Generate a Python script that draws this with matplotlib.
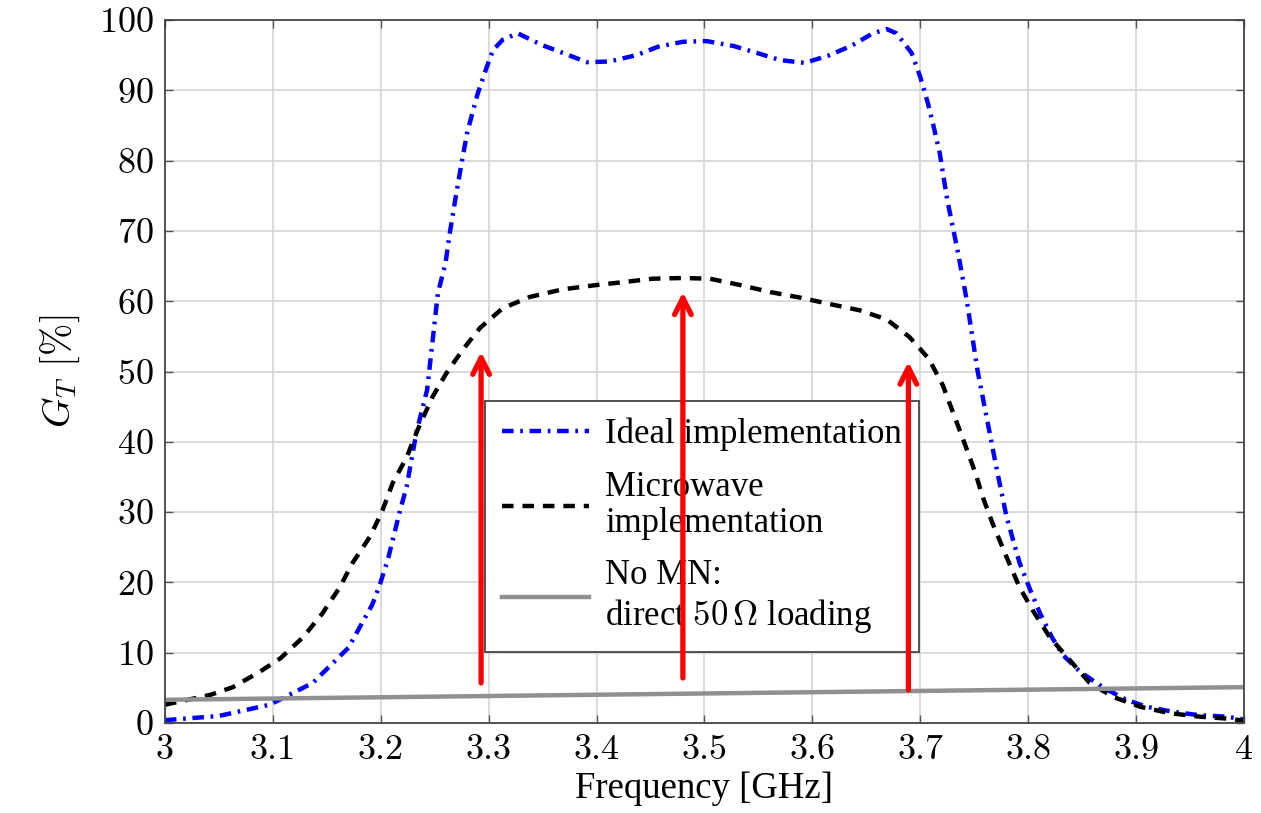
import numpy as np
import matplotlib
matplotlib.use("Agg")
import matplotlib.pyplot as plt

plt.rcParams['font.family'] = 'serif'
plt.rcParams['font.serif'] = ['cmr10', 'DejaVu Serif']
plt.rcParams['mathtext.fontset'] = 'cm'
plt.rcParams['axes.formatter.use_mathtext'] = True
plt.rcParams['axes.unicode_minus'] = False

# ideal implementation (blue dash-dot)
f_ideal = [3.0, 3.05, 3.097, 3.137, 3.17, 3.192, 3.199, 3.207, 3.218, 3.224, 3.233,
           3.243, 3.253, 3.26, 3.264, 3.269, 3.275, 3.28, 3.285, 3.29, 3.298, 3.304,
           3.313, 3.327, 3.35, 3.369, 3.391, 3.412, 3.437, 3.457, 3.48, 3.502, 3.527,
           3.549, 3.57, 3.593, 3.616, 3.637, 3.656, 3.669, 3.678, 3.692, 3.7, 3.707,
           3.712, 3.718, 3.725, 3.735, 3.743, 3.753, 3.762, 3.771, 3.78, 3.792, 3.802,
           3.811, 3.822, 3.832, 3.848, 3.87, 3.891, 3.91, 3.934, 3.959, 3.984, 4.0]
g_ideal = [0.4, 1.0, 2.6, 5.7, 10.7, 16.8, 19.6, 23.5, 30.3, 33.6, 41.3,
           47.4, 61.2, 65.4, 69.7, 74.4, 79.7, 83.9, 86.8, 89.6, 93.2, 95.7,
           97.2, 98.1, 96.4, 95.3, 94.0, 94.1, 95.0, 96.2, 96.9, 97.0, 96.3,
           95.3, 94.3, 93.9, 95.0, 96.4, 98.1, 98.7, 98.1, 95.3, 91.9, 88.2,
           85.1, 81.1, 74.4, 66.9, 60.2, 50.2, 43.1, 36.0, 29.3, 22.8, 18.9,
           15.6, 12.2, 9.7, 7.3, 5.0, 3.3, 2.3, 1.6, 1.1, 0.9, 0.5]

# microwave implementation (black dashed)
f_mw = [3.0, 3.042, 3.063, 3.088, 3.107, 3.128, 3.146, 3.162, 3.174, 3.19, 3.201,
        3.211, 3.224, 3.235, 3.248, 3.261, 3.276, 3.292, 3.313, 3.338, 3.369, 3.4,
        3.424, 3.452, 3.48, 3.505, 3.533, 3.561, 3.589, 3.616, 3.644, 3.669, 3.69,
        3.708, 3.721, 3.732, 3.741, 3.751, 3.758, 3.767, 3.78, 3.792, 3.804, 3.82,
        3.836, 3.857, 3.879, 3.904, 3.931, 3.959, 3.987, 4.0]
g_mw = [2.6, 4.0, 5.1, 7.3, 9.2, 12.2, 15.6, 19.3, 22.8, 26.5, 30.0,
        34.1, 37.8, 42.0, 46.4, 49.8, 53.1, 56.2, 59.0, 60.6, 61.7, 62.3,
        62.7, 63.2, 63.3, 63.2, 62.3, 61.3, 60.5, 59.6, 58.7, 57.4, 54.9,
        51.8, 48.0, 43.5, 39.8, 35.6, 32.1, 28.4, 23.6, 19.3, 16.1, 12.2,
        9.4, 5.7, 3.7, 2.3, 1.4, 0.9, 0.6, 0.3]

# no matching network
f_nomn = [3.0, 4.0]
g_nomn = [3.3, 5.1]

# red arrows
arrow_f = [3.293, 3.48, 3.689]
arrow_start = [5.7, 6.4, 4.7]
arrow_end = [52.8, 61.3, 51.4]

xticks = [3.0, 3.1, 3.2, 3.3, 3.4, 3.5, 3.6, 3.7, 3.8, 3.9, 4.0]
xticklabels = ["3", "3.1", "3.2", "3.3", "3.4", "3.5", "3.6", "3.7", "3.8", "3.9", "4"]
yticks = [0, 10, 20, 30, 40, 50, 60, 70, 80, 90, 100]

times = 'Liberation Serif'

fig = plt.figure(figsize=(12.61, 8.13), dpi=100)
ax = fig.add_axes([0.1308, 0.1107, 0.8557, 0.8647])

ax.plot(f_ideal, g_ideal, color='blue', lw=3.2, linestyle=(0, (2.6, 1.5, 0.6, 1.5)),
        label="Ideal implementation")
ax.plot(f_mw, g_mw, color='black', lw=3.2, linestyle=(0, (2.6, 2.0)),
        label="Microwave\nimplementation")
ax.plot(f_nomn, g_nomn, color='#909090', lw=3.2,
        label="No MN:\ndirect $50\\,\\Omega$ loading")

ax.set_xlim(3, 4)
ax.set_ylim(0, 100)
ax.set_xticks(xticks)
ax.set_xticklabels(xticklabels)
ax.set_yticks(yticks)
ax.tick_params(direction='in', length=6, width=1, color='#555555', labelsize=26,
               top=True, right=True, pad=8)
ax.grid(True, color='#d4d4d4', lw=1.2)
ax.set_axisbelow(True)
for s in ax.spines.values():
    s.set_color('#444444')
    s.set_linewidth(1.3)

ax.set_xlabel("Frequency [GHz]", fontsize=26.5, family=times, labelpad=4)
ax.set_ylabel("$G_T$ [%]", fontsize=28, labelpad=12)

leg = ax.legend(loc='lower left', bbox_to_anchor=(0.2966, 0.101), borderaxespad=0,
                prop={'family': times, 'size': 25}, fancybox=False,
                edgecolor='#444444', framealpha=1,
                handlelength=2.5, labelspacing=0.55, borderpad=0.5, handletextpad=0.45)
leg.get_frame().set_linewidth(1.3)
for t in leg.get_texts():
    t.set_linespacing(1.15)

for i in range(len(arrow_f)):
    ax.annotate("", xy=(arrow_f[i], arrow_end[i]), xytext=(arrow_f[i], arrow_start[i]),
                arrowprops=dict(arrowstyle='->', color='red', lw=3.8, mutation_scale=30,
                                shrinkA=0, shrinkB=0),
                zorder=10)

plt.savefig("out.png", dpi=100)
